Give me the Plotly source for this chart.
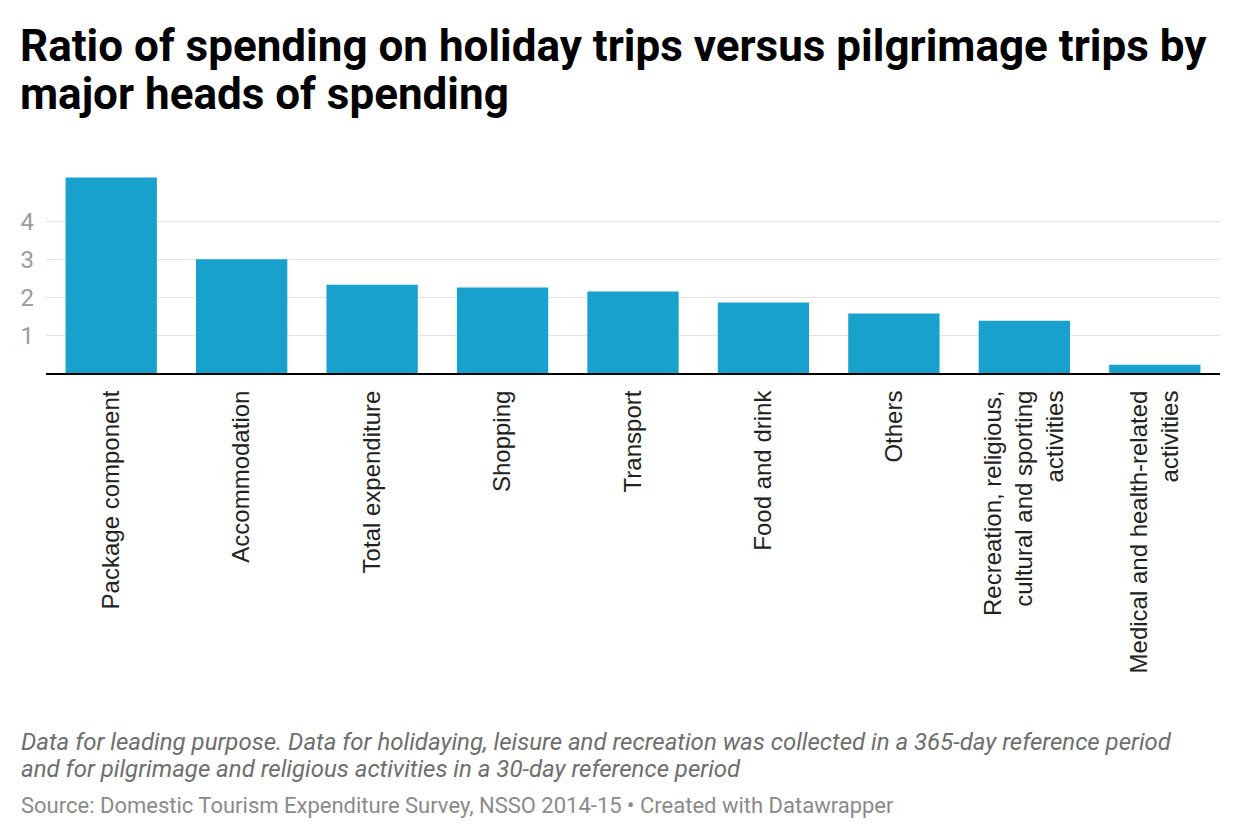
import plotly.graph_objects as go

categories = [
    "Package component",
    "Accommodation",
    "Total expenditure",
    "Shopping",
    "Transport",
    "Food and drink",
    "Others",
    "Recreation, religious,<br>cultural and sporting<br>activities",
    "Medical and health-related<br>activities",
]
ratios = [5.16, 3.0, 2.33, 2.26, 2.15, 1.86, 1.57, 1.38, 0.22]
y_ticks = [1, 2, 3, 4]

title_lines = [
    "Ratio of spending on holiday trips versus pilgrimage trips by",
    "major heads of spending",
]
note_lines = [
    "Data for leading purpose. Data for holidaying, leisure and recreation was collected in a 365-day reference period",
    "and for pilgrimage and religious activities in a 30-day reference period",
]
source_text = "Source: Domestic Tourism Expenditure Survey, NSSO 2014-15 • Created with Datawrapper"

W, H = 1240, 840
left, right = 46.3, 20.3
top, bottom = 176.4, 466.5
ph = H - top - bottom
pw = W - left - right


def px_x(p):
    return (p - left) / pw


def px_y(p):
    return (H - bottom - p) / ph


def text_ann(text, x_px, top_px, size, color, bold=False, italic=False):
    t = text
    if bold:
        t = "<b>" + t + "</b>"
    if italic:
        t = "<i>" + t + "</i>"
    return dict(
        text=t,
        xref="paper", yref="paper",
        x=px_x(x_px), y=px_y(top_px),
        xanchor="left", yanchor="top",
        align="left",
        showarrow=False,
        borderpad=0,
        font=dict(family="Roboto", size=size, color=color),
    )


fig = go.Figure(
    go.Bar(
        x=categories,
        y=ratios,
        marker=dict(color="#18a1cd", line=dict(width=0)),
        hoverinfo="x+y",
    )
)

annotations = [
    text_ann(title_lines[0], 19, 19, 44, "#000000", bold=True),
    text_ann(title_lines[1], 19, 67, 44, "#000000", bold=True),
    text_ann(note_lines[0], 20, 728, 24, "#6e6e6e", italic=True),
    text_ann(note_lines[1], 20, 755, 24, "#6e6e6e", italic=True),
    text_ann(source_text, 20, 793, 22, "#8a8a8a"),
]

fig.update_layout(
    width=W,
    height=H,
    margin=dict(l=left, r=right, t=top, b=bottom, autoexpand=False),
    paper_bgcolor="white",
    plot_bgcolor="white",
    bargap=0.30,
    showlegend=False,
    xaxis=dict(
        tickangle=-90,
        tickfont=dict(family="Liberation Sans, Arial", size=24, color="#222222"),
        showline=True,
        linecolor="#000000",
        linewidth=2,
        ticks="",
        ticklabelstandoff=6,
        showgrid=False,
        fixedrange=True,
    ),
    yaxis=dict(
        range=[0, 5.2],
        tickvals=y_ticks,
        ticktext=[str(v) for v in y_ticks],
        tickfont=dict(family="Roboto", size=24, color="#9b9b9b"),
        showgrid=True,
        gridcolor="#e3e3e3",
        gridwidth=1,
        zeroline=False,
        showline=False,
        ticks="",
        ticklabelstandoff=11,
        fixedrange=True,
    ),
    annotations=annotations,
)

fig.write_html("out.html")
